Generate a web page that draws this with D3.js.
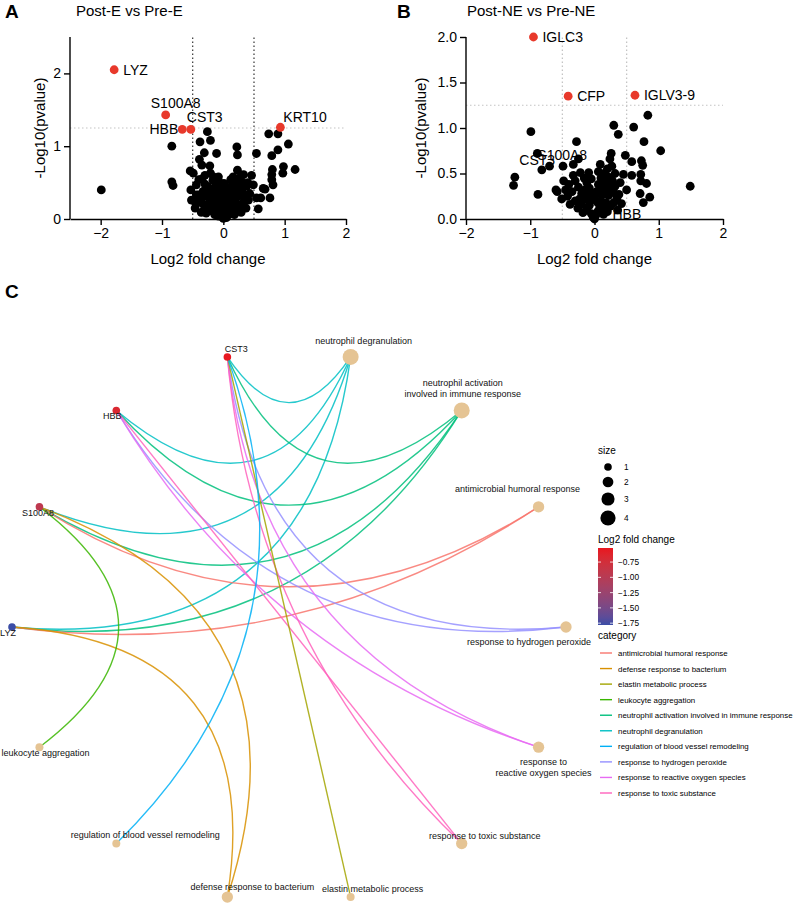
<!DOCTYPE html>
<html>
<head>
<meta charset="utf-8">
<script src="https://cdn.jsdelivr.net/npm/d3@7"></script>
<style>
  body { margin: 0; background: #fff; }
  svg { font-family: Arial, "Liberation Sans", Helvetica, sans-serif; }
</style>
</head>
<body>
<svg width="796" height="910"></svg>
<script>
/*
 * data
 */

// panel A: post-E vs pre-E, [log2 fold change, -log10 p]
let postE = [
  [-1.99,0.40],[-0.84,1.00],[-0.84,0.51],[-0.82,0.46],
  [-0.26,1.20],[-0.38,1.06],[-0.21,1.08],[-0.31,0.91],[-0.11,0.90],[-0.39,0.82],[-0.35,0.74],
  [-0.22,0.73],[-0.54,0.66],[-0.49,0.63],[-0.08,0.58],[-0.40,0.54],[-0.21,0.63],[-0.30,0.60],
  [-0.35,0.55],[-0.16,0.58],[-0.53,0.40],[-0.52,0.26],[-0.46,0.15],[-0.38,0.26],[-0.44,0.47],
  [-0.33,0.38],[-0.44,0.33],
  [0.22,0.99],[0.23,0.88],[0.54,0.90],[0.23,0.67],[0.16,0.58],[0.33,0.61],[0.46,0.60],[0.38,0.45],
  [0.28,0.58],[0.49,0.47],[0.27,0.33],[0.41,0.26],[0.54,0.29],[0.57,0.14],[0.65,0.42],[0.61,0.29],
  [0.16,0.47],[0.11,0.29],
  [0.74,1.17],[0.89,1.17],[0.89,0.95],[1.06,1.03],[0.79,0.87],[0.98,0.72],[0.97,0.63],[1.17,0.68],
  [0.79,0.61],[0.79,0.54],[0.81,0.47],[0.76,0.29],[0.68,0.41],[0.80,0.68],
  [-0.30,0.48],[-0.25,0.44],[-0.19,0.40],[-0.28,0.31],[-0.22,0.24],[-0.15,0.34],[-0.11,0.29],
  [-0.17,0.18],[-0.10,0.21],[-0.07,0.12],[-0.04,0.07],[-0.02,0.03],[0.00,0.01],[0.02,0.05],
  [0.05,0.09],[0.07,0.15],[0.10,0.22],[0.12,0.29],[0.15,0.36],[0.18,0.41],[0.20,0.27],[0.22,0.18],
  [0.25,0.12],[0.14,0.11],[0.09,0.06],[-0.14,0.06],[-0.19,0.11],[-0.24,0.16],[-0.31,0.13],
  [-0.34,0.21],[-0.40,0.33],[-0.12,0.46],[-0.05,0.41],[0.00,0.31],[0.03,0.21],[-0.02,0.15],
  [0.06,0.35],[0.10,0.43],[0.30,0.40],[0.33,0.24],[0.28,0.19],[0.35,0.33],[-0.07,0.51],[0.01,0.49],
  [-0.17,0.53],[-0.27,0.19],[-0.36,0.09],[0.18,0.06],[0.29,0.09],[0.37,0.15],[0.43,0.35],[0.21,0.50],
  [0.12,0.54],[-0.06,0.26],[0.06,0.27],[-0.09,0.36],[0.16,0.21],[0.25,0.44],[0.05,0.44],[-0.20,0.30],
  [-0.26,0.37],[0.08,0.38],[-0.13,0.14],[0.12,0.16],[-0.03,0.36],[0.03,0.12],[-0.08,0.04],[0.05,0.02],
  [0.31,0.50],[0.40,0.50],[-0.45,0.22],[-0.28,0.08],[0.22,0.35]
];
// significant genes in A: [name, log2 fc, -log10 p]
let postEHits = [["LYZ",-1.78,2.05],["S100A8",-0.94,1.43],["HBB",-0.67,1.23],["CST3",-0.53,1.23],["KRT10",0.93,1.26]];

// panel B: post-NE vs pre-NE
let postNE = [
  [-0.99,0.96],[-1.24,0.46],[-1.26,0.37],[-0.88,0.27],[-0.89,0.72],[-0.82,0.54],[-0.70,0.58],
  [-0.49,0.58],[-0.33,0.60],[-0.25,0.66],[-0.28,0.85],[-0.09,0.51],[-0.48,0.42],[-0.60,0.32],
  [-0.51,0.22],[-0.58,0.30],
  [0.30,1.03],[0.37,0.93],[0.61,1.01],[0.83,1.14],[0.77,0.85],[1.03,0.75],[0.48,0.70],[0.26,0.72],
  [0.24,0.66],[0.09,0.60],[0.58,0.63],[0.73,0.64],[0.75,0.59],[1.49,0.36],[0.45,0.49],[0.58,0.48],
  [0.50,0.32],[0.72,0.49],[0.72,0.42],[0.81,0.39],[0.71,0.28],[0.86,0.24],[0.76,0.18],[0.30,0.29],
  [0.35,0.23],
  [-0.40,0.38],[-0.35,0.30],[-0.30,0.42],[-0.25,0.35],[-0.20,0.28],[-0.42,0.25],[-0.38,0.16],
  [-0.30,0.20],[-0.26,0.12],[-0.20,0.16],[-0.15,0.22],[-0.12,0.10],[-0.08,0.15],[-0.05,0.06],
  [-0.02,0.02],[0.00,0.00],[0.02,0.04],[0.05,0.08],[0.08,0.12],[0.10,0.20],[0.13,0.27],[0.16,0.33],
  [0.19,0.40],[0.22,0.46],[0.15,0.50],[0.10,0.45],[0.06,0.38],[0.03,0.30],[0.00,0.22],[-0.03,0.28],
  [-0.08,0.34],[-0.12,0.40],[-0.16,0.45],[-0.05,0.44],[0.18,0.18],[0.22,0.26],[0.26,0.33],[0.28,0.42],
  [0.32,0.36],[0.25,0.14],[0.20,0.08],[0.14,0.05],[0.30,0.18],[0.38,0.27],[0.40,0.40],[-0.18,0.07],
  [-0.10,0.26],[0.12,0.36],[0.05,0.18],[-0.06,0.20],[0.08,0.28],[0.20,0.55],[0.32,0.50],[0.27,0.58],
  [-0.22,0.51],[0.06,0.52],[-0.33,0.48],[0.42,0.17],[0.36,0.10],[-0.45,0.32],[-0.15,0.32],[0.16,0.12],
  [-0.23,0.22],[0.24,0.36],[0.11,0.27]
];
let postNEHits = [["IGLC3",-0.95,2.00],["CFP",-0.41,1.35],["IGLV3-9",0.63,1.36]];
// non significant genes that still carry a label in B: [name, x, y of text start]
let postNENotes = [["S100A8",-0.89,0.65],["CST3",-1.17,0.59],["HBB",0.28,0.0]];

// panel C: gene concept network
let geneNames = ["LYZ","S100A8","HBB","CST3"];
let geneFC = [-1.78,-0.94,-0.67,-0.53];
let termNames = [
  "neutrophil degranulation",
  "neutrophil activation involved in immune response",
  "antimicrobial humoral response",
  "response to hydrogen peroxide",
  "response to reactive oxygen species",
  "response to toxic substance",
  "elastin metabolic process",
  "defense response to bacterium",
  "regulation of blood vessel remodeling",
  "leukocyte aggregation"
];
let termGenes = [
  ["CST3","HBB","S100A8","LYZ"],
  ["CST3","HBB","S100A8","LYZ"],
  ["S100A8","LYZ"],
  ["CST3","HBB"],
  ["CST3","HBB"],
  ["CST3","HBB"],
  ["CST3"],
  ["S100A8","LYZ"],
  ["CST3"],
  ["S100A8"]
];
let fcTicks = [-0.75,-1.00,-1.25,-1.50,-1.75];
let sizeTicks = [1,2,3,4];

let svg = d3.select("svg");
let red = "#e8392b";

/*
 * volcano plot helper, used for A and B
 */
let drawVolcano = function(o) {
  let g = svg.append("g");
  let x = d3.scaleLinear().domain(o.xDomain).range([o.left, o.right]);
  let y = d3.scaleLinear().domain(o.yDomain).range([219, 37]);

  // threshold lines
  o.vlines.forEach(v => {
    g.append("line")
      .attr("x1", x(v)).attr("x2", x(v)).attr("y1", y(0)).attr("y2", y(o.yDomain[1]))
      .attr("stroke", o.vColor).attr("stroke-width", 1.3).attr("stroke-dasharray", "1.5,2.5");
  });
  g.append("line")
    .attr("x1", o.left).attr("x2", o.right).attr("y1", y(1.25)).attr("y2", y(1.25))
    .attr("stroke", "#c4c4c4").attr("stroke-width", 1.2).attr("stroke-dasharray", "1.5,2.5");

  // black points then red ones on top
  g.selectAll("circle.ns").data(o.points).enter().append("circle")
    .attr("cx", d => x(d[0])).attr("cy", d => y(d[1])).attr("r", 4.4).attr("fill", "#000");
  g.selectAll("circle.hit").data(o.hits).enter().append("circle")
    .attr("cx", d => x(d[1])).attr("cy", d => y(d[2])).attr("r", 4.4).attr("fill", red);

  // axes
  let xAxis = d3.axisBottom(x).tickValues([-2,-1,0,1,2]).tickFormat(d3.format("d"))
    .tickSize(6).tickSizeOuter(0).tickPadding(3);
  let yAxis = d3.axisLeft(y).tickValues(o.yTicks).tickFormat(o.yFormat)
    .tickSize(6).tickSizeOuter(0).tickPadding(3);
  let xg = g.append("g").attr("transform", "translate(0," + y(0) + ")").call(xAxis);
  let yg = g.append("g").attr("transform", "translate(" + o.left + ",0)").call(yAxis);
  [xg, yg].forEach(a => {
    a.selectAll("path, line").attr("stroke", "#000").attr("stroke-width", 1.4);
    a.selectAll("text").attr("font-size", 14).attr("fill", "#000")
      .attr("font-family", "Arial, 'Liberation Sans', sans-serif");
  });
  yg.select("path.domain").attr("d", "M0," + y(o.yDomain[1]) + "V" + y(0));

  // axis titles
  g.append("text").attr("x", (o.left + o.right) / 2 + o.xTitleShift).attr("y", 264)
    .attr("text-anchor", "middle").attr("font-size", 15).text("Log2 fold change");
  g.append("text").attr("transform", "translate(" + o.yTitleX + ",128)rotate(-90)")
    .attr("text-anchor", "middle").attr("font-size", 15).text("-Log10(pvalue)");

  // panel letter and title
  g.append("text").attr("x", o.letterX).attr("y", 18).attr("font-size", 19)
    .attr("font-weight", "bold").text(o.letter);
  g.append("text").attr("x", o.titleX).attr("y", 16).attr("font-size", 15).text(o.title);

  return {g: g, x: x, y: y};
};

// ---- panel A ----
let pa = drawVolcano({
  points: postE, hits: postEHits,
  xDomain: [-2.5, 2], yDomain: [0, 2.5], left: 70, right: 346,
  yTicks: [0, 1, 2], yFormat: d3.format("d"),
  vlines: [-0.5, 0.5], vColor: "#444",
  xTitleShift: 0, yTitleX: 45,
  letter: "A", letterX: 5, title: "Post-E vs Pre-E", titleX: 76
});
// label offsets for the red genes in A, [dx, dy, anchor]
let aPlace = {LYZ: [9, 5, "start"], S100A8: [10, -7, "middle"], HBB: [-4, 5, "end"],
              CST3: [-4, -7, "start"], KRT10: [3, -5, "start"]};
pa.g.selectAll("text.hit").data(postEHits).enter().append("text")
  .attr("x", d => pa.x(d[1]) + aPlace[d[0]][0])
  .attr("y", d => pa.y(d[2]) + aPlace[d[0]][1])
  .attr("text-anchor", d => aPlace[d[0]][2])
  .attr("font-size", 14).text(d => d[0]);

// ---- panel B ----
let pb = drawVolcano({
  points: postNE, hits: postNEHits,
  xDomain: [-2, 2], yDomain: [0, 2], left: 466, right: 723,
  yTicks: [0, 0.5, 1, 1.5, 2], yFormat: d3.format(".1f"),
  vlines: [-0.5, 0.5], vColor: "#c4c4c4",
  xTitleShift: 0, yTitleX: 426,
  letter: "B", letterX: 397, title: "Post-NE vs Pre-NE", titleX: 467
});
pb.g.selectAll("text.hit").data(postNEHits).enter().append("text")
  .attr("x", d => pb.x(d[1]) + 9).attr("y", d => pb.y(d[2]) + 5)
  .attr("font-size", 14).text(d => d[0]);
pb.g.selectAll("text.note").data(postNENotes).enter().append("text")
  .attr("x", d => pb.x(d[1])).attr("y", d => pb.y(d[2]))
  .attr("font-size", 14).text(d => d[0]);

/*
 * panel C: circular gene-concept network
 */
svg.append("text").attr("x", 5).attr("y", 298).attr("font-size", 19)
  .attr("font-weight", "bold").text("C");

let nodes = termNames.concat(geneNames);
let n = nodes.length;
let cx = 289, cy = 627, radius = 277;

// linear order around the circle, first term sits three steps above 3 o'clock
let angle = d3.scaleLinear().domain([0, n]).range([3 * 2 * Math.PI / n, 3 * 2 * Math.PI / n - 2 * Math.PI]);
let pos = i => [cx + radius * Math.cos(angle(i)), cy - radius * Math.sin(angle(i))];

let hue = ["#F8766D","#D89000","#A3A500","#39B600","#00BF7D","#00BFC4","#00B0F6","#9590FF","#E76BF3","#FF62BC"];
let catColor = d3.scaleOrdinal().domain(termNames.slice().sort(d3.ascending)).range(hue);

let fcDomain = [-1.78, -0.52];
let fcColor = d3.scaleLinear().domain(fcDomain).range(["#3b4da6", "#e9161f"]).interpolate(d3.interpolateLab);
let sizeScale = d3.scaleSqrt().domain([0, 4]).range([0, 8]);

// how far the arc apex sits from the centre (fraction of radius) per step count
let bend = [1, 0.81, 0.615, 0.44, 0.25, 0.145, 0.04, 0];

let edges = [];
termNames.forEach((t, ti) => {
  termGenes[ti].forEach(gname => {
    edges.push({term: t, ti: ti, gi: termNames.length + geneNames.indexOf(gname)});
  });
});

let edgePath = function(e) {
  let a = pos(e.ti), b = pos(e.gi);
  let d = Math.abs(e.ti - e.gi);
  let steps = Math.min(d, n - d);
  let mx = (a[0] + b[0]) / 2, my = (a[1] + b[1]) / 2;
  let vx = mx - cx, vy = my - cy;
  let len = Math.hypot(vx, vy);
  let p = d3.path();
  p.moveTo(b[0], b[1]);
  if (len < 2) {
    p.lineTo(a[0], a[1]);
  } else {
    let k = bend[steps] * radius / len;
    let ax = cx + vx * k, ay = cy + vy * k;
    p.quadraticCurveTo(2 * ax - mx, 2 * ay - my, a[0], a[1]);
  }
  return p.toString();
};

let net = svg.append("g");
net.selectAll("path.edge").data(edges).enter().append("path")
  .attr("d", edgePath)
  .attr("fill", "none")
  .attr("stroke", d => catColor(d.term))
  .attr("stroke-opacity", 0.85)
  .attr("stroke-width", 1.4);

// term nodes
net.selectAll("circle.term").data(termNames).enter().append("circle")
  .attr("cx", (d, i) => pos(i)[0]).attr("cy", (d, i) => pos(i)[1])
  .attr("r", (d, i) => sizeScale(termGenes[i].length))
  .attr("fill", "#E5C494");

// gene nodes
net.selectAll("circle.gene").data(geneNames).enter().append("circle")
  .attr("cx", (d, i) => pos(termNames.length + i)[0]).attr("cy", (d, i) => pos(termNames.length + i)[1])
  .attr("r", 3.8)
  .attr("fill", (d, i) => fcColor(geneFC[i]));

// node labels: [dx, dy of first baseline, lines]
let place = {
  "neutrophil degranulation": [13, -13],
  "neutrophil activation involved in immune response": [1, -24, ["neutrophil activation", "involved in immune response"]],
  "antimicrobial humoral response": [-21, -15],
  "response to hydrogen peroxide": [-37, 18],
  "response to reactive oxygen species": [5, 18, ["response to", "reactive oxygen species"]],
  "response to toxic substance": [23, -5],
  "elastin metabolic process": [22, -5],
  "defense response to bacterium": [25, -7],
  "regulation of blood vessel remodeling": [29, -6],
  "leukocyte aggregation": [6, 9],
  "LYZ": [-4, 9], "S100A8": [-1.5, 9], "HBB": [-4, 9], "CST3": [9, -5]
};
nodes.forEach((name, i) => {
  let p = pos(i), pl = place[name];
  let lines = pl[2] || [name];
  let t = net.append("text")
    .attr("x", p[0] + pl[0]).attr("y", p[1] + pl[1])
    .attr("text-anchor", "middle").attr("font-size", 9).attr("fill", "#111");
  lines.forEach((l, j) => {
    t.append("tspan").attr("x", p[0] + pl[0]).attr("dy", j ? 11 : 0).text(l);
  });
});

/*
 * legends
 */
let lg = svg.append("g").attr("font-size", 8.3);

// size
lg.append("text").attr("x", 598).attr("y", 454).attr("font-size", 10).text("size");
let sizeY = d3.scaleOrdinal().domain(sizeTicks).range([467, 482, 499, 518]);
lg.selectAll("circle.size").data(sizeTicks).enter().append("circle")
  .attr("cx", 608).attr("cy", d => sizeY(d)).attr("r", d => sizeScale(d) * 0.95).attr("fill", "#000");
lg.selectAll("text.size").data(sizeTicks).enter().append("text")
  .attr("x", 624).attr("y", d => sizeY(d) + 3).text(d => d);

// colour bar
lg.append("text").attr("x", 598).attr("y", 543).attr("font-size", 10).text("Log2 fold change");
let barY = d3.scaleLinear().domain(fcDomain).range([625, 548]);
let grad = svg.append("defs").append("linearGradient").attr("id", "fcgrad")
  .attr("x1", 0).attr("y1", 1).attr("x2", 0).attr("y2", 0);
d3.range(0, 1.0001, 0.1).forEach(f => {
  grad.append("stop").attr("offset", f)
    .attr("stop-color", fcColor(fcDomain[0] + f * (fcDomain[1] - fcDomain[0])));
});
lg.append("rect").attr("x", 598).attr("y", barY(fcDomain[1])).attr("width", 15)
  .attr("height", barY(fcDomain[0]) - barY(fcDomain[1])).attr("fill", "url(#fcgrad)");
fcTicks.forEach(v => {
  lg.append("line").attr("x1", 598).attr("x2", 601).attr("y1", barY(v)).attr("y2", barY(v))
    .attr("stroke", "#fff").attr("stroke-width", 0.8);
  lg.append("line").attr("x1", 610).attr("x2", 613).attr("y1", barY(v)).attr("y2", barY(v))
    .attr("stroke", "#fff").attr("stroke-width", 0.8);
  lg.append("text").attr("x", 618).attr("y", barY(v) + 3).text(d3.format(".2f")(v).replace("-", "\u2212"));
});

// category
lg.append("text").attr("x", 598).attr("y", 639).attr("font-size", 10).text("category");
let cats = catColor.domain();
let catY = d3.scaleLinear().domain([0, cats.length - 1]).range([653, 793]);
cats.forEach((c, i) => {
  lg.append("line").attr("x1", 600).attr("x2", 612).attr("y1", catY(i)).attr("y2", catY(i))
    .attr("stroke", catColor(c)).attr("stroke-width", 1.4);
  lg.append("text").attr("x", 618).attr("y", catY(i) + 3).attr("font-size", 7.9).text(c);
});
</script>
</body>
</html>
